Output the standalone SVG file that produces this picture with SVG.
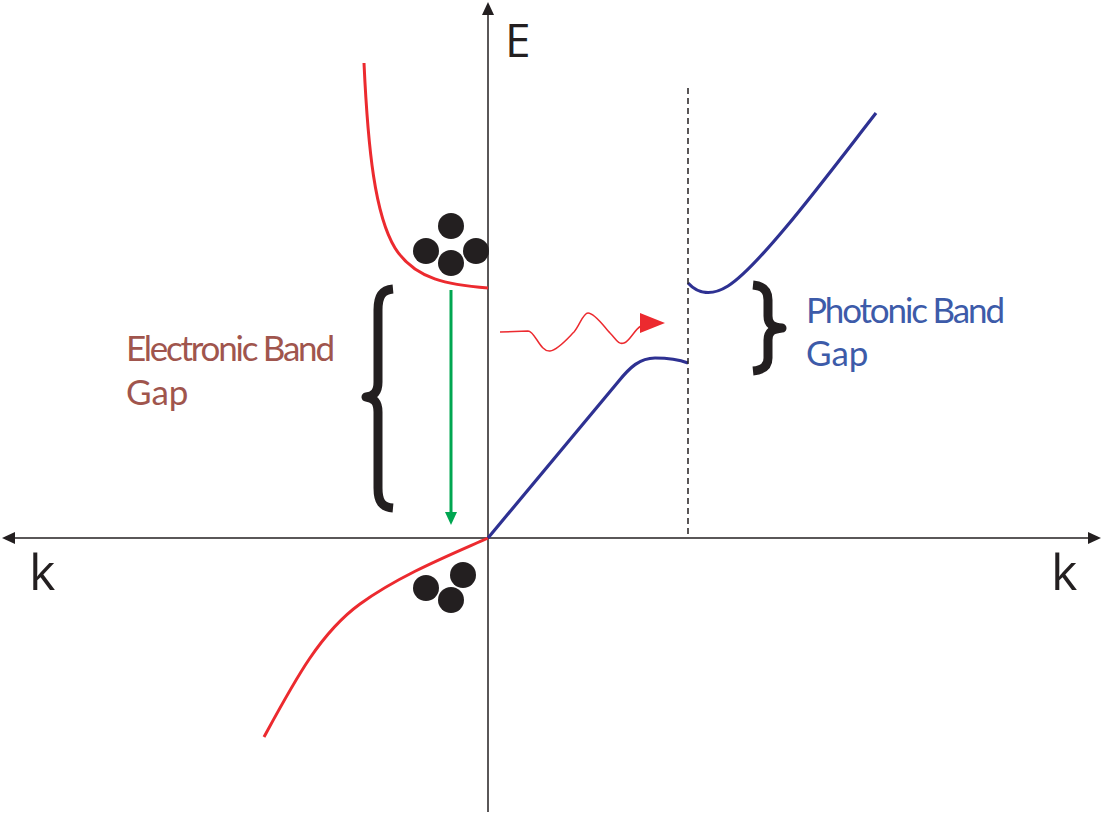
<svg xmlns="http://www.w3.org/2000/svg" width="1103" height="814" viewBox="0 0 1103 814">
<style>
.axis{stroke:#231f20;stroke-width:1.5;fill:none}
.red{stroke:#ec2a2f;stroke-width:3;fill:none}
.blue{stroke:#2e3192;stroke-width:3.2;fill:none}
.brace{stroke:#231f20;stroke-width:9;fill:none;stroke-linejoin:round}
.dot{fill:#231f20}
.lbl{font-family:"Open Sans","Liberation Sans",sans-serif;fill:#231f20}
.txt{font-family:Lato,"Open Sans",sans-serif;font-size:35px}
</style>
<rect width="1103" height="814" fill="#ffffff"/>
<g id="axes">
<line class="axis" x1="488" y1="812" x2="488" y2="12"/>
<polygon points="488,2 482,15 494,15" fill="#231f20"/>
<line class="axis" x1="12" y1="538" x2="1091" y2="538"/>
<polygon points="2,538 15,532 15,544" fill="#231f20"/>
<polygon points="1101,538 1088,532 1088,544" fill="#231f20"/>
<text class="lbl" x="505" y="57" font-size="46">E</text>
<text class="lbl" x="29" y="590" font-size="50">k</text>
<text class="lbl" x="1051" y="590" font-size="50">k</text>
</g>
<g id="electron-bands">
<path class="red" d="M364,63 C368,150 375,215 395,248 C415,280 450,285 488,288"/>
<path class="red" d="M488,538 C450,555 400,575 360,604 C320,633 295,680 264,737"/>
</g>
<g id="electrons-upper">
<circle class="dot" cx="451" cy="226" r="13"/>
<circle class="dot" cx="426" cy="251" r="13"/>
<circle class="dot" cx="476" cy="251" r="13"/>
<circle class="dot" cx="451" cy="263" r="13"/>
</g>
<g id="electrons-lower">
<circle class="dot" cx="426" cy="588" r="13"/>
<circle class="dot" cx="463" cy="575" r="13"/>
<circle class="dot" cx="451" cy="600" r="13"/>
</g>
<g id="photon-bands">
<path class="blue" d="M488,538 L618,382 C630,367 640,358 655,358 C670,358 680,360 688,363"/>
<path class="blue" d="M688,283 C698,294 712,296 728,286 C760,266 830,172 876,113"/>
<line x1="688" y1="88" x2="688" y2="538" stroke="#231f20" stroke-width="1.5" stroke-dasharray="6,4"/>
</g>
<g id="connectors">
<line x1="451" y1="290" x2="451" y2="514" stroke="#00a651" stroke-width="3"/>
<polygon points="445,512 457,512 451,525" fill="#00a651"/>
<path d="M500,332 L528,331 C535,331 540,352 550,351 C558,350 568,338 574,332 C580,325 583,313 588,313 C595,313 605,328 610,333 C616,339 618,345 624,343 C630,341 634,330 641,326" stroke="#ec2a2f" stroke-width="1.5" fill="none"/>
<polygon points="640,313 665,323 640,333" fill="#ec2a2f"/>
</g>
<g id="electronic-gap">
<path class="brace" d="M393,289 C382,290 378,296 378,310 L378,382 C378,392 374,396 366,397 C374,398 378,402 378,412 L378,488 C378,502 382,507 393,508"/>
<text class="txt" fill="#a0554d" x="126" y="361" textLength="209">Electronic Band</text>
<text class="txt" fill="#a0554d" x="126" y="405">Gap</text>
</g>
<g id="photonic-gap">
<path class="brace" d="M753,285 C763,286 768,290 768,300 L768,316 C768,324 772,327 782,328 C772,329 768,332 768,340 L768,358 C768,366 763,370 753,371" stroke-width="8"/>
<text class="txt" fill="#3d5ba9" x="806" y="323" textLength="199">Photonic Band</text>
<text class="txt" fill="#3d5ba9" x="806" y="366">Gap</text>
</g>
</svg>
